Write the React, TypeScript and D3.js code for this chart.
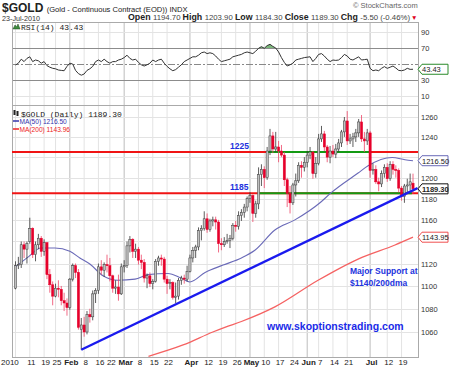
import React, { useEffect, useRef } from 'react';
import * as d3 from 'd3';

// trading calendar
const firstDay = "2010-01-04";
const lastDay = "2010-07-23";
const holidays = ["2010-01-18", "2010-02-15", "2010-04-02", "2010-05-31", "2010-07-05"];

// daily OHLC, Jan 4 .. Jul 23
const opens = [
  1098, 1118, 1119, 1137, 1133, 1140, 1152, 1128, 1137, 1143, 1131, 1139, 1110, 1101, 1091, 1098, 1097, 1087, 1085,
  1081, 1106, 1118, 1112, 1062, 1066, 1060, 1075, 1073, 1093, 1096, 1117, 1114, 1119, 1118, 1109, 1098, 1099, 1093,
  1117, 1118, 1136, 1142, 1131, 1133, 1123, 1121, 1107, 1109, 1102, 1104, 1122, 1125, 1124, 1106, 1102, 1103, 1090, 1091, 1105, 1107, 1106,
  1113, 1125, 1132, 1135, 1150, 1152, 1161, 1151, 1159, 1160, 1158, 1138, 1137, 1140, 1141, 1143, 1155, 1154, 1164, 1167, 1172,
  1180, 1183, 1166, 1175, 1203, 1208, 1200, 1226, 1241, 1228, 1230, 1226, 1222, 1198, 1185, 1176, 1193, 1197, 1212, 1210,
  1215, 1222, 1225, 1204, 1214, 1238, 1243, 1230, 1220, 1226, 1223, 1228, 1234, 1245, 1256, 1236, 1238, 1240, 1244, 1255, 1238, 1236,
  1244, 1207, 1208, 1196, 1194, 1204, 1210, 1199, 1213, 1208, 1207, 1190, 1182, 1192, 1193, 1194.7,
];
const highs = [
  1122, 1126, 1140, 1140, 1140, 1162, 1153, 1140, 1147, 1145, 1142, 1139, 1115, 1104, 1102, 1105, 1100, 1094, 1089,
  1107, 1120, 1120, 1115, 1072, 1073, 1078, 1080, 1096, 1098, 1120, 1123, 1121, 1128, 1125, 1110, 1105, 1110, 1120,
  1123, 1140, 1145, 1143, 1138, 1135, 1128, 1124, 1111, 1112, 1106, 1124, 1127, 1128, 1126, 1109, 1106, 1104, 1103, 1107, 1109, 1110, 1118,
  1128, 1135, 1137, 1153, 1155, 1168, 1166, 1161, 1163, 1163, 1160, 1143, 1144, 1147, 1146, 1157, 1159, 1168, 1170, 1175, 1182,
  1186, 1184, 1178, 1210, 1213, 1211, 1230, 1248, 1245, 1245, 1236, 1232, 1225, 1200, 1192, 1195, 1204, 1215, 1216, 1220,
  1226, 1230, 1226, 1220, 1243, 1251, 1246, 1232, 1231, 1232, 1233, 1238, 1247, 1260, 1266, 1243, 1244, 1248, 1258, 1262, 1245, 1248,
  1246, 1214, 1212, 1200, 1207, 1213, 1214, 1216, 1216, 1212, 1209, 1192, 1194, 1199, 1204, 1203.9,
];
const lows = [
  1097, 1115, 1116, 1125, 1120, 1138, 1125, 1122, 1133, 1126, 1127, 1106, 1094, 1083, 1090, 1090, 1083, 1078, 1074,
  1079, 1104, 1107, 1062, 1045, 1056, 1058, 1068, 1070, 1085, 1093, 1110, 1108, 1112, 1104, 1094, 1093, 1087, 1092,
  1112, 1116, 1130, 1125, 1125, 1119, 1115, 1103, 1098, 1099, 1097, 1103, 1118, 1118, 1103, 1093, 1097, 1088, 1085, 1088, 1101, 1102, 1104,
  1112, 1121, 1125, 1132, 1141, 1150, 1148, 1149, 1154, 1151, 1130, 1132, 1135, 1138, 1134, 1141, 1149, 1151, 1159, 1162, 1168,
  1176, 1158, 1162, 1170, 1192, 1190, 1198, 1222, 1224, 1225, 1215, 1220, 1192, 1172, 1166, 1174, 1182, 1195, 1200, 1206,
  1210, 1218, 1199, 1200, 1212, 1235, 1226, 1215, 1214, 1220, 1219, 1225, 1230, 1240, 1232, 1233, 1230, 1235, 1240, 1235, 1225, 1232,
  1200, 1203, 1194, 1187, 1191, 1200, 1196, 1197, 1203, 1200, 1186, 1178, 1176, 1185, 1188, 1184.3,
];
const closes = [
  1118, 1119, 1137, 1133, 1138, 1152, 1128, 1137, 1143, 1131, 1139, 1110, 1101, 1091, 1098, 1097, 1087, 1085, 1081,
  1106, 1118, 1112, 1064, 1066, 1060, 1075, 1073, 1093, 1096, 1117, 1114, 1119, 1118, 1109, 1098, 1099, 1093, 1117,
  1118, 1136, 1142, 1131, 1133, 1123, 1121, 1107, 1109, 1102, 1104, 1122, 1125, 1124, 1106, 1102, 1103, 1090, 1091, 1105, 1107, 1106, 1113,
  1125, 1132, 1135, 1150, 1152, 1161, 1151, 1159, 1160, 1158, 1138, 1137, 1140, 1141, 1143, 1155, 1154, 1164, 1167, 1172, 1180,
  1183, 1166, 1175, 1203, 1208, 1200, 1226, 1241, 1228, 1230, 1226, 1222, 1198, 1185, 1176, 1193, 1197, 1212, 1210, 1215,
  1222, 1225, 1204, 1214, 1238, 1243, 1230, 1220, 1226, 1223, 1228, 1234, 1245, 1256, 1236, 1238, 1240, 1244, 1255, 1238, 1236, 1244,
  1207, 1208, 1196, 1194, 1204, 1210, 1199, 1213, 1208, 1207, 1190, 1182, 1192, 1193, 1196, 1189.3,
];

// RSI(14), one value per trading day
const rsiValues = [
  48.7, 51, 56, 53, 57, 59, 53, 55, 54, 51, 53, 48, 46, 44.6, 44, 42.5, 42, 41.6, 47,
  51, 50, 42, 38, 36, 37.5, 42, 44, 47, 53, 55, 53, 56, 53, 51, 53, 53, 55, 56,
  58, 61, 57, 55, 56, 52, 49, 47.5, 49, 51, 55, 53, 55, 56, 51, 47, 44, 41.6, 43, 46, 49, 53, 55,
  57, 59, 59, 61, 64, 65, 63, 64, 63, 60, 56, 53, 54, 55, 56, 59, 60, 61, 62, 64, 65,
  64, 63, 66, 69.6, 71.7, 69.6, 73, 74.6, 72, 70, 65, 58, 52, 47.5, 49, 51, 55, 56, 57, 58,
  58.5, 59, 53, 57, 62, 63, 60, 56, 53, 55, 54.5, 55, 58, 62, 60, 56, 55, 57, 59, 55, 55.5, 56,
  44.6, 41.6, 42.5, 41.6, 44.6, 46.7, 44.6, 46, 47.5, 45, 42, 41.6, 42.5, 44.6, 43.3, 43.43,
];

// moving averages read at points along the curves (trading-day number, price)
const ma50Days = [0, 4.5, 8.9, 13.8, 19, 22.5, 26, 30.6, 35.8, 41.8, 46.3, 53.3, 57.9, 61, 66.3, 72.6, 79, 83.7, 90.7, 97.7, 106.8, 110.3, 119.8, 123.3, 131.7, 136.2, 139];
const ma50Values = [1117, 1126, 1134, 1134, 1131, 1125, 1119.5, 1109, 1105, 1106, 1110, 1111, 1107, 1103.5, 1112, 1118.6, 1125, 1132, 1150.6, 1160, 1176.8, 1185.4, 1204.5, 1211.5, 1219.6, 1217.5, 1216.5];
const ma200Days = [46.5, 58.6, 69, 73.2, 79, 90.7, 105.8, 119.8, 132.7, 139];
const ma200Values = [1039.5, 1049, 1060, 1064, 1069, 1081.6, 1105, 1124, 1136.8, 1143.95];

// annotations
const supportLevels = [1225, 1185];
const greenFrom = [88.3, 85.1];
const greenTo = [124, 138.6];
const trendDays = [23, 140.6];
const trendPrices = [1045, 1190];

// axes
const priceTicks = [1060, 1080, 1100, 1120, 1140, 1160, 1180, 1200, 1220, 1240, 1260];
const rsiTicks = [90, 70, 50, 30, 10];
const tickDates = [
  "2010-01-04", "2010-01-11", "2010-01-19", "2010-01-25", "2010-02-01", "2010-02-08", "2010-02-16", "2010-02-22",
  "2010-03-01", "2010-03-08", "2010-03-15", "2010-03-22", "2010-04-01", "2010-04-12", "2010-04-19", "2010-04-26",
  "2010-05-03", "2010-05-10", "2010-05-17", "2010-05-24", "2010-06-01", "2010-06-07", "2010-06-14", "2010-06-21",
  "2010-07-01", "2010-07-12", "2010-07-19",
];
const tickLabels = [
  "2010", "11", "19", "25", "Feb", "8", "16", "22", "Mar", "8", "15", "22", "Apr", "12", "19", "26",
  "May", "10", "17", "24", "Jun", "7", "14", "21", "Jul", "12", "19",
];

const SANS = "'Liberation Sans', Arial, sans-serif";
const MONO = "'Liberation Mono', 'DejaVu Sans Mono', monospace";

const App: React.FC = () => {
  const svgRef = useRef<SVGSVGElement>(null);

  useEffect(() => {
    if (!svgRef.current) return;
    const svg = d3.select(svgRef.current);
    svg.selectAll("*").remove();

    const left = 12, right = 418;
    const rsiTop = 22, rsiBottom = 105;
    const priceTop = 105, priceBottom = 357;

    const fmt = d3.timeFormat("%Y-%m-%d");
    const parse = d3.timeParse("%Y-%m-%d");
    const days = d3.timeDay
      .range(parse(firstDay)!, d3.timeDay.offset(parse(lastDay)!, 1))
      .filter(d => d.getDay() !== 0 && d.getDay() !== 6 && !holidays.includes(fmt(d)));
    const dayIndex = (s: string) => days.findIndex(d => fmt(d) === s);

    const x = d3.scaleLinear().domain([0, days.length - 1]).range([15.5, 413]);
    const y = d3.scaleLog().domain([1060, 1260]).range([332, 117]);
    const yr = d3.scaleLinear().domain([0, 100]).range([104, 24]);

    // right-axis value boxes (they hide the tick labels underneath)
    const boxes = [
      { y: y(ma50Values[ma50Values.length - 1]), label: "1216.50", stroke: "#6a6ab8", bold: false },
      { y: y(closes[closes.length - 1]), label: "1189.30", stroke: "#111", bold: true },
      { y: y(ma200Values[ma200Values.length - 1]), label: "1143.95", stroke: "#f05050", bold: false },
    ];

    const defs = svg.append("defs");
    defs.append("clipPath").attr("id", "priceClip").append("rect")
      .attr("x", left).attr("y", priceTop).attr("width", right - left).attr("height", priceBottom - priceTop);

    svg.append("rect").attr("width", 450).attr("height", 368).attr("fill", "#fff");

    // vertical grid (both panels)
    tickDates.forEach((t, k) => {
      const xi = x(dayIndex(t));
      const major = isNaN(+tickLabels[k]);
      [[rsiTop, rsiBottom], [priceTop, priceBottom]].forEach(([a, b]) => {
        svg.append("line").attr("x1", xi).attr("x2", xi).attr("y1", a).attr("y2", b)
          .attr("stroke", major ? "#bdbdbd" : "#e3e3e3").attr("stroke-width", 1);
      });
    });

    // RSI panel grid
    rsiTicks.forEach(v => {
      const yy = Math.round(yr(v)) + 0.5;
      const strong = v === 70 || v === 30;
      svg.append("line").attr("x1", left).attr("x2", right).attr("y1", yy).attr("y2", yy)
        .attr("stroke", v === 50 ? "#888" : strong ? "#8c8c8c" : "#e3e3e3")
        .attr("stroke-width", strong ? 1.2 : 1)
        .attr("stroke-dasharray", v === 50 ? "7,2,2,2" : null);
      if (v !== 50) {
        svg.append("text").attr("x", 421).attr("y", yr(v) + 3).attr("font-family", SANS).attr("font-size", 7.5)
          .attr("fill", "#333").text(v);
      }
    });

    // price grid
    priceTicks.forEach(v => {
      const yy = Math.round(y(v)) + 0.5;
      svg.append("line").attr("x1", left).attr("x2", right).attr("y1", yy).attr("y2", yy)
        .attr("stroke", "#e3e3e3");
      if (boxes.every(b => Math.abs(b.y - y(v)) > 8)) {
        svg.append("text").attr("x", 421).attr("y", y(v) + 3).attr("font-family", SANS).attr("font-size", 7.5)
          .attr("fill", "#333").text(v);
      }
    });

    // panel borders
    svg.append("rect").attr("x", left + 0.5).attr("y", rsiTop + 0.5).attr("width", right - left).attr("height", rsiBottom - rsiTop)
      .attr("fill", "none").attr("stroke", "#aaa");
    svg.append("rect").attr("x", left + 0.5).attr("y", priceTop + 0.5).attr("width", right - left).attr("height", priceBottom - priceTop)
      .attr("fill", "none").attr("stroke", "#aaa");

    // RSI line + overbought fill
    const rsiPts = rsiValues.map((v, i) => [i, v] as [number, number]);
    svg.append("path").datum(rsiPts)
      .attr("d", d3.area<[number, number]>().x(d => x(d[0])).y0(yr(70)).y1(d => yr(Math.max(d[1], 70))))
      .attr("fill", "#5aa55a").attr("opacity", 0.8);
    svg.append("path").datum(rsiPts)
      .attr("d", d3.line<[number, number]>().x(d => x(d[0])).y(d => yr(d[1])))
      .attr("fill", "none").attr("stroke", "#333").attr("stroke-width", 1);

    const g = svg.append("g").attr("clip-path", "url(#priceClip)");

    // support / resistance lines
    supportLevels.forEach((lvl, k) => {
      g.append("line").attr("x1", left).attr("x2", right).attr("y1", y(lvl)).attr("y2", y(lvl))
        .attr("stroke", "#f01414").attr("stroke-width", 2);
      g.append("line").attr("x1", x(greenFrom[k])).attr("x2", x(greenTo[k])).attr("y1", y(lvl)).attr("y2", y(lvl))
        .attr("stroke", "#139a13").attr("stroke-width", 2);
    });

    // moving averages
    const maLine = d3.line<[number, number]>().x(d => x(d[0])).y(d => y(d[1])).curve(d3.curveMonotoneX);
    g.append("path").datum(ma200Days.map((d, i) => [d, ma200Values[i]] as [number, number]))
      .attr("d", maLine).attr("fill", "none").attr("stroke", "#f56262").attr("stroke-width", 1.3);
    g.append("path").datum(ma50Days.map((d, i) => [d, ma50Values[i]] as [number, number]))
      .attr("d", maLine).attr("fill", "none").attr("stroke", "#6a6ab8").attr("stroke-width", 1.1);

    // candles
    closes.forEach((c, i) => {
      const o = opens[i];
      const prev = i > 0 ? closes[i - 1] : o;
      const down = c < prev;
      const xc = x(i);
      g.append("line").attr("x1", xc).attr("x2", xc).attr("y1", y(highs[i])).attr("y2", y(lows[i]))
        .attr("stroke", down ? "#ee4466" : "#333").attr("stroke-width", 0.8);
      const top = y(Math.max(o, c));
      const h = Math.max(1, Math.abs(y(o) - y(c)));
      g.append("rect").attr("x", xc - 1.1).attr("y", top).attr("width", 2.2).attr("height", h)
        .attr("fill", down ? "#e6002b" : "#c0c0c0")
        .attr("stroke", down ? "#e6002b" : "#3a3a3a").attr("stroke-width", 0.5);
    });

    // trend line
    g.append("line")
      .attr("x1", x(trendDays[0])).attr("y1", y(trendPrices[0]))
      .attr("x2", x(trendDays[1])).attr("y2", y(trendPrices[1]))
      .attr("stroke", "#1a1aee").attr("stroke-width", 2.4);

    // level labels
    supportLevels.forEach(lvl => {
      svg.append("text").attr("x", 230).attr("y", y(lvl) - 3).attr("font-family", SANS).attr("font-size", 8.5)
        .attr("font-weight", "bold").attr("fill", "#2030dd").text(lvl);
    });

    // annotations
    svg.append("text").attr("x", 350).attr("y", 274).attr("font-family", SANS).attr("font-size", 8.5)
      .attr("font-weight", "bold").attr("fill", "#2233dd").text("Major Support at");
    svg.append("text").attr("x", 350).attr("y", 286).attr("font-family", SANS).attr("font-size", 8.5)
      .attr("font-weight", "bold").attr("fill", "#2233dd").text("$1140/200dma");
    svg.append("text").attr("x", 267).attr("y", 330).attr("font-family", SANS).attr("font-size", 10.5)
      .attr("font-weight", "bold").attr("fill", "#1a2be8").text("www.skoptionstrading.com");

    // value boxes on the right axis
    const box = (yy: number, label: string, stroke: string, bold: boolean) => {
      svg.append("path")
        .attr("d", `M 418 ${yy} L 422 ${yy - 5} L 448 ${yy - 5} L 448 ${yy + 5} L 422 ${yy + 5} Z`)
        .attr("fill", "#fff").attr("stroke", stroke).attr("stroke-width", 1);
      svg.append("text").attr("x", 422).attr("y", yy + 3).attr("font-family", SANS).attr("font-size", 7.5)
        .attr("font-weight", bold ? "bold" : "normal").attr("fill", "#222").text(label);
    };
    boxes.forEach(b => box(b.y, b.label, b.stroke, b.bold));
    box(yr(rsiValues[rsiValues.length - 1]), "43.43", "#2a8a2a", false);

    // x axis labels
    tickDates.forEach((t, k) => {
      const lab = tickLabels[k];
      const major = isNaN(+lab);
      const xi = x(dayIndex(t));
      svg.append("text")
        .attr("x", k === 0 ? 1 : xi + 1.5).attr("y", 365)
        .attr("text-anchor", k === 0 ? "start" : "middle")
        .attr("font-family", SANS).attr("font-size", 8)
        .attr("font-weight", major ? "bold" : "normal").attr("fill", "#222").text(lab);
    });

    // header
    const hdr = svg.append("text").attr("x", 2).attr("y", 11.5).attr("font-family", SANS).attr("fill", "#222");
    hdr.append("tspan").attr("font-size", 12).attr("font-weight", "bold").text("$GOLD ");
    hdr.append("tspan").attr("font-size", 7.6).text("(Gold - Continuous Contract (EOD)) INDX");
    svg.append("text").attr("x", 2).attr("y", 20.5).attr("font-family", SANS).attr("font-size", 7.2).attr("fill", "#333")
      .text("23-Jul-2010");
    svg.append("text").attr("x", 353).attr("y", 8).attr("font-family", SANS).attr("font-size", 7.5).attr("fill", "#666")
      .text("© StockCharts.com");
    const quote = svg.append("text").attr("x", 128).attr("y", 20).attr("font-family", SANS).attr("fill", "#222")
      .attr("textLength", 282).attr("lengthAdjust", "spacingAndGlyphs");
    [["Open", "1194.70"], ["High", "1203.90"], ["Low", "1184.30"], ["Close", "1189.30"], ["Chg", "-5.50 (-0.46%)"]].forEach(([k, v]) => {
      quote.append("tspan").attr("font-size", 8.5).attr("font-weight", "bold").text(k + " ");
      quote.append("tspan").attr("font-size", 7.5).attr("fill", "#444").text(v + " ");
    });
    svg.append("text").attr("x", 411).attr("y", 20).attr("font-family", SANS).attr("font-size", 6.5).attr("fill", "#e00020").text("▼");

    // RSI legend
    svg.append("path").attr("d", "M 13 29 L 15 25 L 16.5 27 L 18 24 L 20 29 Z").attr("fill", "#3f8f3f").attr("stroke", "#224422").attr("stroke-width", 0.5);
    svg.append("text").attr("x", 21).attr("y", 29.5).attr("font-family", MONO).attr("font-size", 8).attr("fill", "#222")
      .text("RSI(14) 43.43");

    // price legend
    svg.append("rect").attr("x", 13.5).attr("y", 110).attr("width", 2).attr("height", 5).attr("fill", "#222");
    svg.append("rect").attr("x", 16.5).attr("y", 111).attr("width", 2).attr("height", 5).attr("fill", "#222");
    svg.append("text").attr("x", 21).attr("y", 116.5).attr("font-family", MONO).attr("font-size", 8).attr("fill", "#222")
      .text("$GOLD (Daily) 1189.30");
    svg.append("line").attr("x1", 13).attr("x2", 19).attr("y1", 121).attr("y2", 121).attr("stroke", "#3333aa").attr("stroke-width", 1.5);
    svg.append("text").attr("x", 19.5).attr("y", 123.5).attr("font-family", SANS).attr("font-size", 6.6).attr("fill", "#3333aa")
      .text("MA(50) 1216.50");
    svg.append("line").attr("x1", 13).attr("x2", 19).attr("y1", 129).attr("y2", 129).attr("stroke", "#ee2222").attr("stroke-width", 1.5);
    svg.append("text").attr("x", 19.5).attr("y", 131.5).attr("font-family", SANS).attr("font-size", 6.6).attr("fill", "#ee2222")
      .text("MA(200) 1143.96");
  }, []);

  return (
    <div style={{ position: 'absolute', left: 0, top: 0 }}>
      <svg ref={svgRef} width={450} height={368} style={{ display: 'block' }} />
    </div>
  );
};

export default App;
